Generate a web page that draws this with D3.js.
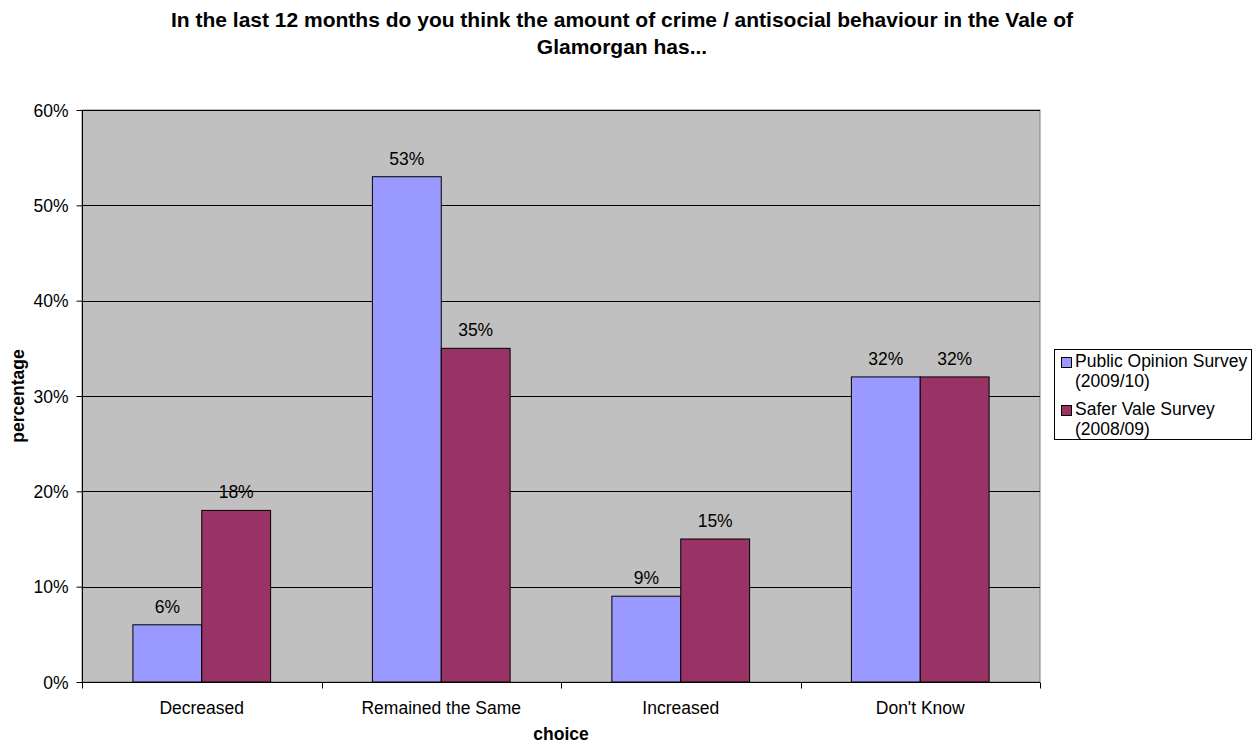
<!DOCTYPE html>
<html><head><meta charset="utf-8">
<script src="https://cdn.jsdelivr.net/npm/d3@7/dist/d3.min.js"></script>
<style>body{margin:0;background:#fff}svg{display:block;font-family:Arial,"Liberation Sans",sans-serif}</style>
</head><body><svg id="c" width="1255" height="744"></svg>
<script>
const categories = ["Decreased","Remained the Same","Increased","Don't Know"];
const seriesNames = ["Public Opinion Survey (2009/10)","Safer Vale Survey (2008/09)"];
const publicOpinion = [6,53,9,32];
const saferVale = [18,35,15,32];
const yTicks = [0,10,20,30,40,50,60];
const colors = ["#9999FF","#993366"];
const FS = 17.5;

const svg = d3.select("#c");
const m = {l:82, r:1040, t:110, b:682};
const x = d3.scaleBand().domain(categories).range([m.l,m.r]).paddingInner(0.425).paddingOuter(0.2125);
const xs = d3.scaleBand().domain([0,1]).range([0,x.bandwidth()]);
const y = d3.scaleLinear().domain([0,60]).range([m.b,m.t]);

svg.append("rect").attr("x",m.l).attr("y",m.t).attr("width",m.r-m.l).attr("height",m.b-m.t)
  .attr("fill","#C0C0C0").attr("stroke","#808080").attr("stroke-width",1);

// gridlines
svg.append("g").selectAll("line").data(yTicks.slice(1)).join("line")
  .attr("x1",m.l).attr("x2",m.r).attr("y1",d=>Math.round(y(d))+0.5).attr("y2",d=>Math.round(y(d))+0.5)
  .attr("stroke","#000").attr("stroke-width",1);

// bars
const data = categories.map((c,i)=>({c, v:[publicOpinion[i], saferVale[i]]}));
const g = svg.append("g");
data.forEach(d=>{
  d.v.forEach((v,j)=>{
    g.append("rect").attr("x",x(d.c)+xs(j)).attr("y",y(v)).attr("width",xs.bandwidth()).attr("height",y(0)-y(v))
      .attr("fill",colors[j]).attr("stroke","#000").attr("stroke-width",1);
    g.append("text").attr("x",x(d.c)+xs(j)+xs.bandwidth()/2).attr("y",y(v)-12)
      .attr("text-anchor","middle").attr("font-size",FS).text(v+"%");
  });
});

// y axis
const ya = svg.append("g").attr("transform",`translate(${m.l+0.5},0)`)
  .call(d3.axisLeft(y).tickValues(yTicks).tickFormat(d=>d+"%").tickSize(6).tickPadding(8));
ya.select(".domain").attr("stroke","#000").attr("d",`M0,${m.t}V${m.b}`);
ya.selectAll("text").attr("font-size",FS).attr("font-family","Arial, Liberation Sans, sans-serif").attr("fill","#000").attr("dy","0.36em");
ya.selectAll("line").attr("stroke","#000");

// x axis
const xa = svg.append("g").attr("transform",`translate(0,${m.b+0.5})`);
xa.append("line").attr("x1",m.l).attr("x2",m.r).attr("stroke","#000");
const bounds = d3.range(categories.length+1).map(i=>m.l + i*(m.r-m.l)/categories.length);
xa.selectAll("line.t").data(bounds).join("line").attr("class","t")
  .attr("x1",d=>Math.round(d)+0.5).attr("x2",d=>Math.round(d)+0.5).attr("y1",0).attr("y2",6).attr("stroke","#000");
xa.selectAll("text").data(categories).join("text")
  .attr("x",d=>x(d)+x.bandwidth()/2).attr("y",31).attr("text-anchor","middle").attr("font-size",FS).text(d=>d);

// title
const title = svg.append("text").attr("text-anchor","middle").attr("font-size",21).attr("font-weight","bold");
title.append("tspan").attr("x",622).attr("y",27).text("In the last 12 months do you think the amount of crime / antisocial behaviour in the Vale of");
title.append("tspan").attr("x",622).attr("y",54).text("Glamorgan has...");

// axis titles
svg.append("text").attr("x",561).attr("y",740).attr("text-anchor","middle").attr("font-size",FS).attr("font-weight","bold").text("choice");
svg.append("text").attr("transform","translate(24,396) rotate(-90)").attr("text-anchor","middle").attr("font-size",FS).attr("font-weight","bold").text("percentage");

// legend
const lg = svg.append("g");
lg.append("rect").attr("x",1054.5).attr("y",349.5).attr("width",197).attr("height",90).attr("fill","#fff").attr("stroke","#000");
const legLines = [["Public Opinion Survey","(2009/10)"],["Safer Vale Survey","(2008/09)"]];
seriesNames.forEach((s,i)=>{
  const yy = 357 + i*48;
  lg.append("rect").attr("x",1061.5).attr("y",yy+0.5).attr("width",10).attr("height",10).attr("fill",colors[i]).attr("stroke","#000");
  const t = lg.append("text").attr("font-size",FS);
  t.append("tspan").attr("x",1075).attr("y",yy+10).text(legLines[i][0]);
  t.append("tspan").attr("x",1075).attr("y",yy+30).text(legLines[i][1]);
});
</script></body></html>
